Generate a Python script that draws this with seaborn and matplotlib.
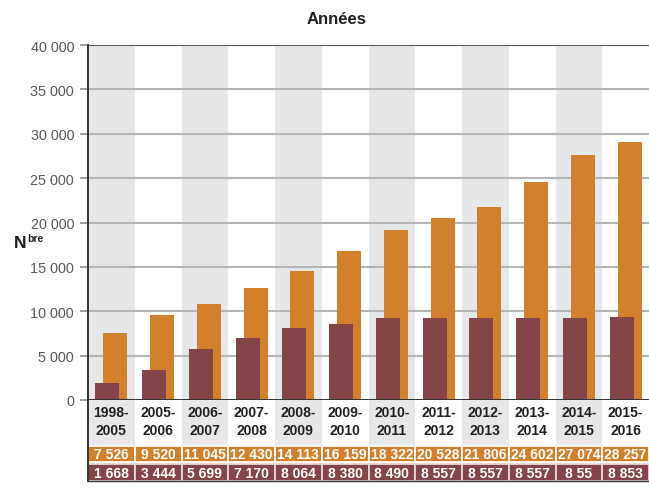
import numpy as np
import pandas as pd
import matplotlib
matplotlib.use('Agg')
import matplotlib.pyplot as plt
import seaborn as sns

# Data
periods = ['1998-2005', '2005-2006', '2006-2007', '2007-2008', '2008-2009', '2009-2010',
           '2010-2011', '2011-2012', '2012-2013', '2013-2014', '2014-2015', '2015-2016']
# bar heights as drawn
orange_bars = [7580, 9600, 10850, 12650, 14560, 16800, 19180, 20500, 21800, 24600, 27600, 29100]
maroon_bars = [1950, 3410, 5780, 7000, 8140, 8600, 9270, 9270, 9270, 9270, 9270, 9380]
# values printed in the table rows
orange_labels = ['7 526', '9 520', '11 045', '12 430', '14 113', '16 159',
                 '18 322', '20 528', '21 806', '24 602', '27 074', '28 257']
maroon_labels = ['1 668', '3 444', '5 699', '7 170', '8 064', '8 380',
                 '8 490', '8 557', '8 557', '8 557', '8 55', '8 853']
y_ticks = [0, 5000, 10000, 15000, 20000, 25000, 30000, 35000, 40000]
y_tick_labels = ['0', '5 000', '10 000', '15 000', '20 000', '25 000', '30 000', '35 000', '40 000']

ORANGE = '#D3802C'
MAROON = '#844548'
BAND = '#E6E7E8'
DARK = '#231F20'

sns.set_style('white')
plt.rcParams['font.family'] = ['Liberation Sans', 'DejaVu Sans']

W, H = 649, 489
fig = plt.figure(figsize=(W / 100, H / 100), dpi=100)
left, right = 88, 649
ax = fig.add_axes([left / W, (H - 401) / H, (right - left) / W, 355 / H])
ax_t = fig.add_axes([left / W, (H - 482) / H, (right - left) / W, 81 / H])

n = len(periods)
pos = np.arange(n)

# alternating grey columns
for a in (ax, ax_t):
    for i in range(0, n, 2):
        a.axvspan(i - 0.5, i + 0.5, color=BAND, lw=0, zorder=0)

# gridlines
for t in y_ticks[1:-1]:
    ax.axhline(t, color='#B5B5B5', lw=1.5, zorder=1)
ax.axhline(40000, color='#555555', lw=1.5, zorder=1)

df_o = pd.DataFrame({'pos': pos + 0.085, 'val': orange_bars})
df_m = pd.DataFrame({'pos': pos - 0.085, 'val': maroon_bars})
sns.barplot(data=df_o, x='pos', y='val', native_scale=True, width=0.51, color=ORANGE,
            saturation=1, errorbar=None, ax=ax, zorder=2, linewidth=0, edgecolor='none')
sns.barplot(data=df_m, x='pos', y='val', native_scale=True, width=0.51, color=MAROON,
            saturation=1, errorbar=None, ax=ax, zorder=3, linewidth=0, edgecolor='none')

ax.set_xlim(-0.5, n - 0.5)
ax.set_ylim(0, 40000)
ax.set_xlabel('')
ax.set_ylabel('')
ax.set_xticks([])
ax.set_yticks(y_ticks)
ax.set_yticklabels(y_tick_labels, fontsize=10.4, color='#58595B')
ax.tick_params(axis='y', length=6, width=1.2, color='#8C8C8C', pad=4, left=True)
for s in ['top', 'right']:
    ax.spines[s].set_visible(False)
ax.spines['left'].set_color('#333333')
ax.spines['left'].set_linewidth(1.4)
ax.spines['bottom'].set_color('#333333')
ax.spines['bottom'].set_linewidth(1.4)
ax.spines['bottom'].set_zorder(5)

# table below the axis
ax_t.set_xlim(-0.5, n - 0.5)
ax_t.set_ylim(81, 0)
ax_t.bar(pos, 16, bottom=46, width=1, color=ORANGE, edgecolor='white', lw=1.3, zorder=2)
ax_t.bar(pos, 17.5, bottom=63.5, width=1, color=MAROON, edgecolor='#E8D8D9', lw=1.3, zorder=2)
fs = 10
for i, p in enumerate(periods):
    top, bottom = p.split('-')
    ax_t.text(i, 12, top + '-', ha='center', va='center', fontsize=fs,
              fontweight='bold', color=DARK, zorder=3)
    ax_t.text(i, 30.5, bottom, ha='center', va='center', fontsize=fs,
              fontweight='bold', color=DARK, zorder=3)
    ax_t.text(i, 54.5, orange_labels[i], ha='center', va='center', fontsize=fs,
              fontweight='bold', color='white', zorder=3)
    ax_t.text(i, 73, maroon_labels[i], ha='center', va='center', fontsize=fs,
              fontweight='bold', color='white', zorder=3)
ax_t.set_xticks([])
ax_t.set_yticks([])
for s in ['top', 'right']:
    ax_t.spines[s].set_visible(False)
ax_t.spines['left'].set_color('#333333')
ax_t.spines['left'].set_linewidth(1.4)
ax_t.spines['bottom'].set_color('#333333')
ax_t.spines['bottom'].set_linewidth(1.0)

# titles
fig.text(337 / W, 1 - 20 / H, 'Années', ha='center', va='center', fontsize=12,
         fontweight='bold', color=DARK)
fig.text(14 / W, 1 - 248 / H, 'N', ha='left', va='baseline', fontsize=12.5,
         fontweight='bold', color=DARK)
fig.text(27 / W, 1 - 242 / H, 'bre', ha='left', va='baseline', fontsize=7.5,
         fontweight='bold', color=DARK)

fig.savefig('out.png', dpi=100)
